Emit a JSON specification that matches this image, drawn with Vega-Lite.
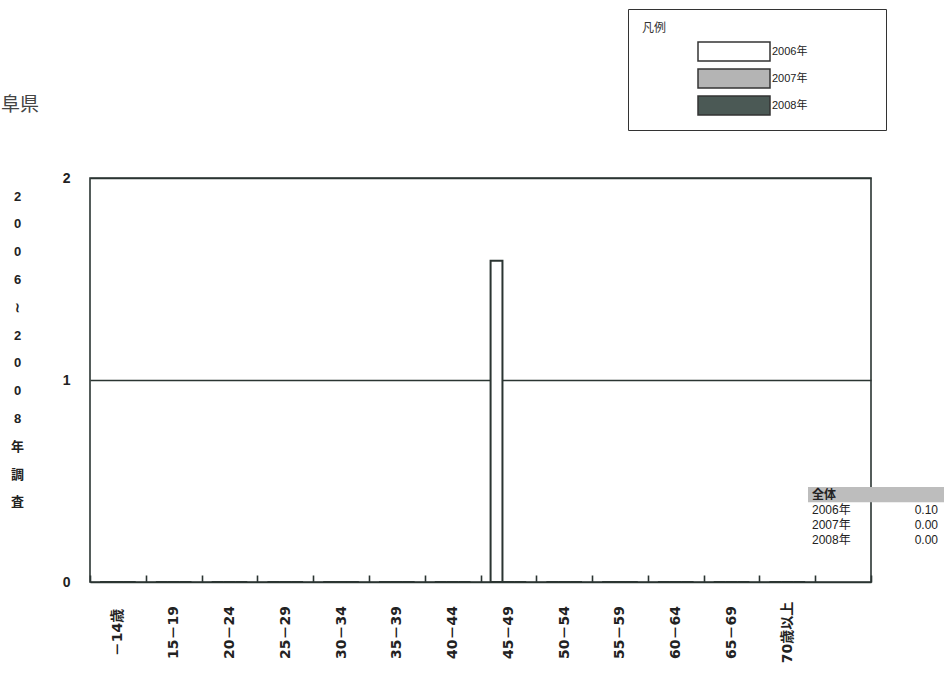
{
  "$schema": "https://vega.github.io/schema/vega-lite/v6.json",
  "width": 781,
  "height": 404,
  "autosize": "none",
  "padding": {"left": 90, "top": 178, "right": 73, "bottom": 101},
  "background": "white",
  "title": {
    "text": "阜県",
    "anchor": "start",
    "frame": "group",
    "dx": -89,
    "offset": -125,
    "baseline": "bottom",
    "fontSize": 19,
    "fontWeight": "normal",
    "font": "Noto Sans CJK JP",
    "color": "#444444"
  },
  "config": {
    "view": {"stroke": "#2b3532", "strokeWidth": 1.6},
    "text": {"font": "Liberation Sans, Noto Sans CJK JP"}
  },
  "layer": [
    {
      "data": {
        "values": [
          {"age": "－14歳", "year": "2006年", "value": 0},
          {"age": "－14歳", "year": "2007年", "value": 0},
          {"age": "－14歳", "year": "2008年", "value": 0},
          {"age": "15－19", "year": "2006年", "value": 0},
          {"age": "15－19", "year": "2007年", "value": 0},
          {"age": "15－19", "year": "2008年", "value": 0},
          {"age": "20－24", "year": "2006年", "value": 0},
          {"age": "20－24", "year": "2007年", "value": 0},
          {"age": "20－24", "year": "2008年", "value": 0},
          {"age": "25－29", "year": "2006年", "value": 0},
          {"age": "25－29", "year": "2007年", "value": 0},
          {"age": "25－29", "year": "2008年", "value": 0},
          {"age": "30－34", "year": "2006年", "value": 0},
          {"age": "30－34", "year": "2007年", "value": 0},
          {"age": "30－34", "year": "2008年", "value": 0},
          {"age": "35－39", "year": "2006年", "value": 0},
          {"age": "35－39", "year": "2007年", "value": 0},
          {"age": "35－39", "year": "2008年", "value": 0},
          {"age": "40－44", "year": "2006年", "value": 0},
          {"age": "40－44", "year": "2007年", "value": 0},
          {"age": "40－44", "year": "2008年", "value": 0},
          {"age": "45－49", "year": "2006年", "value": 1.59},
          {"age": "45－49", "year": "2007年", "value": 0},
          {"age": "45－49", "year": "2008年", "value": 0},
          {"age": "50－54", "year": "2006年", "value": 0},
          {"age": "50－54", "year": "2007年", "value": 0},
          {"age": "50－54", "year": "2008年", "value": 0},
          {"age": "55－59", "year": "2006年", "value": 0},
          {"age": "55－59", "year": "2007年", "value": 0},
          {"age": "55－59", "year": "2008年", "value": 0},
          {"age": "60－64", "year": "2006年", "value": 0},
          {"age": "60－64", "year": "2007年", "value": 0},
          {"age": "60－64", "year": "2008年", "value": 0},
          {"age": "65－69", "year": "2006年", "value": 0},
          {"age": "65－69", "year": "2007年", "value": 0},
          {"age": "65－69", "year": "2008年", "value": 0},
          {"age": "70歳以上", "year": "2006年", "value": 0},
          {"age": "70歳以上", "year": "2007年", "value": 0},
          {"age": "70歳以上", "year": "2008年", "value": 0}
        ]
      },
      "mark": {"type": "bar", "stroke": "#2b3532", "strokeWidth": 2},
      "encoding": {
        "x": {
          "field": "age",
          "type": "nominal",
          "sort": null,
          "scale": {
            "domain": ["－14歳", "15－19", "20－24", "25－29", "30－34", "35－39", "40－44", "45－49", "50－54", "55－59", "60－64", "65－69", "70歳以上", " "],
            "paddingInner": 0,
            "paddingOuter": 0
          },
          "axis": {
            "title": null,
            "domain": false,
            "grid": false,
            "ticks": true,
            "tickBand": "extent",
            "tickSize": -7,
            "tickColor": "#2b3532",
            "tickWidth": 1.6,
            "labelAngle": -90,
            "labelAlign": "center",
            "labelBaseline": "middle",
            "labelPadding": 57,
            "labelFont": "DejaVu Sans, Noto Sans CJK JP",
            "labelFontWeight": "bold",
            "labelFontSize": 14,
            "labelColor": "#222222"
          }
        },
        "xOffset": {
          "field": "year",
          "type": "nominal",
          "scale": {"domain": ["2006年", "2007年", "2008年"], "paddingInner": 0, "paddingOuter": 0.85}
        },
        "y": {
          "field": "value",
          "type": "quantitative",
          "scale": {"domain": [0, 2], "nice": false},
          "axis": {
            "title": ["2", "0", "0", "6", "≀", "2", "0", "0", "8", "年", "調", "査"],
            "titleAngle": 0,
            "titleX": -73,
            "titleY": 12,
            "titleAlign": "center",
            "titleBaseline": "top",
            "titleLineHeight": 27.8,
            "titleFontSize": 13,
            "titleFontWeight": "bold",
            "titleFont": "Liberation Sans, Noto Sans CJK JP",
            "titleColor": "#222222",
            "values": [0, 1, 2],
            "labelExpr": "toString(round(datum.value))",
            "domain": false,
            "ticks": false,
            "grid": true,
            "gridColor": "#2b3532",
            "gridWidth": 1.6,
            "gridOpacity": 1,
            "labelPadding": 20,
            "labelFontSize": 14,
            "labelFontWeight": "bold",
            "labelFont": "Liberation Sans",
            "labelColor": "#222222"
          }
        },
        "color": {
          "field": "year",
          "type": "nominal",
          "scale": {"domain": ["2006年", "2007年", "2008年"], "range": ["#ffffff", "#b4b4b4", "#4b5955"]},
          "legend": {
            "orient": "none",
            "legendX": 538,
            "legendY": -169,
            "title": "凡例",
            "titleFont": "Noto Sans CJK JP",
            "titleFontSize": 12,
            "titleFontWeight": "normal",
            "titleColor": "#333333",
            "titlePadding": 6,
            "padding": 14,
            "strokeColor": "#333333",
            "fillColor": "#ffffff",
            "symbolType": "M-1,-0.264H1V0.264H-1Z",
            "symbolSize": 5184,
            "symbolOffset": 55,
            "symbolStrokeColor": "#333333",
            "symbolStrokeWidth": 1.5,
            "symbolOpacity": 1,
            "clipHeight": 21,
            "rowPadding": 6,
            "labelOffset": 1,
            "labelFont": "Liberation Sans, Noto Sans CJK JP",
            "labelFontSize": 11,
            "labelColor": "#222222",
            "labelLimit": 200,
            "labelExpr": "datum.label + '\u00a0\u00a0\u00a0\u00a0\u00a0\u00a0\u00a0\u00a0\u00a0\u00a0\u00a0\u00a0\u00a0\u00a0\u00a0\u00a0\u00a0\u00a0\u00a0\u00a0\u00a0\u200b'"
          }
        }
      }
    },
    {
      "data": {
        "values": [
          {"row": "全体", "value": ""},
          {"row": "2006年", "value": "0.10"},
          {"row": "2007年", "value": "0.00"},
          {"row": "2008年", "value": "0.00"}
        ]
      },
      "encoding": {
        "y": {
          "field": "row",
          "type": "ordinal",
          "sort": null,
          "scale": {"type": "band", "domain": ["全体", "2006年", "2007年", "2008年"], "range": [309, 370], "paddingInner": 0, "paddingOuter": 0},
          "axis": null
        }
      },
      "layer": [
        {
          "transform": [{"filter": "datum.row === '全体'"}],
          "mark": {"type": "rect", "color": "#bdbdbd"},
          "encoding": {
            "x": {"datum": 0, "type": "quantitative", "scale": {"domain": [0, 1], "range": [718, 854]}, "axis": null},
            "x2": {"datum": 1}
          }
        },
        {
          "transform": [{"filter": "datum.row === '全体'"}],
          "mark": {"type": "text", "align": "left", "dx": 4, "fontSize": 12, "fontWeight": "bold", "color": "#222222"},
          "encoding": {
            "x": {"datum": 0, "type": "quantitative"},
            "text": {"field": "row"}
          }
        },
        {
          "transform": [{"filter": "datum.row !== '全体'"}],
          "mark": {"type": "text", "align": "left", "dx": 4, "fontSize": 12, "color": "#222222"},
          "encoding": {
            "x": {"datum": 0, "type": "quantitative"},
            "text": {"field": "row"}
          }
        },
        {
          "mark": {"type": "text", "align": "right", "dx": -6, "fontSize": 12, "color": "#222222"},
          "encoding": {
            "x": {"datum": 1, "type": "quantitative"},
            "text": {"field": "value"}
          }
        }
      ]
    }
  ],
  "resolve": {"scale": {"x": "independent", "y": "independent", "color": "independent"}}
}
